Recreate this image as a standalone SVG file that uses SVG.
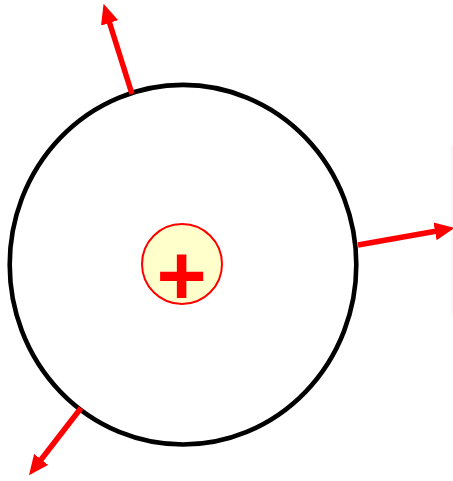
<svg xmlns="http://www.w3.org/2000/svg" width="453" height="481" viewBox="0 0 453 481">
<defs>
<style>
.arrow{stroke:#ff0000;stroke-width:5.5;fill:none}
</style>
<marker id="ah" markerWidth="20" markerHeight="18" refX="2" refY="9" orient="auto" markerUnits="userSpaceOnUse" viewBox="0 0 20 18">
<path d="M0,0 L20,9 L0,18 Z" fill="#ff0000"/>
</marker>
</defs>
<rect width="453" height="481" fill="#ffffff"/>
<line x1="452" y1="145" x2="452" y2="315" stroke="#fde6e6" stroke-width="1"/>
<g id="shell">
<ellipse cx="183" cy="264.7" rx="173.3" ry="179.8" fill="none" stroke="#000000" stroke-width="4.6"/>
</g>
<g id="nucleus">
<circle cx="182" cy="264" r="40" fill="#ffffcc" stroke="#ff0000" stroke-width="2"/>
<text x="181.5" y="305" text-anchor="middle" font-family="Liberation Sans, Arial, sans-serif" font-weight="bold" font-size="86" fill="#ff0000">+</text>
</g>
<g id="connectors">
<line class="arrow" x1="132" y1="94" x2="109" y2="21" marker-end="url(#ah)"/>
<line class="arrow" x1="358" y1="245" x2="437" y2="231" marker-end="url(#ah)"/>
<line class="arrow" x1="81" y1="408" x2="40" y2="461" marker-end="url(#ah)"/>
</g>
</svg>
